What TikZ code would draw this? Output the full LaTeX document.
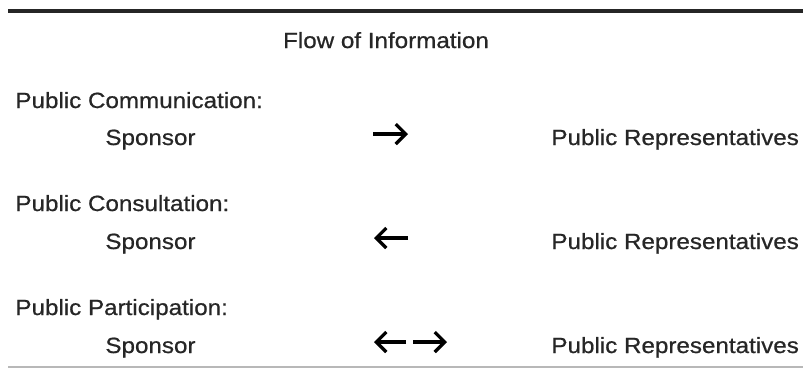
\documentclass[tikz,border=0pt]{standalone}
\usepackage{fontspec}
\setmainfont[FakeStretch=1.1,FakeBold=0.7]{Liberation Sans}
\usetikzlibrary{arrows.meta}
\definecolor{txt}{HTML}{262626}
\definecolor{rulegray}{HTML}{B8B8B8}
\begin{document}
\begin{tikzpicture}[x=0.5pt,y=-0.5pt,
  lbl/.style={anchor=base west,inner sep=0pt,text=txt,font=\fontsize{11pt}{13pt}\selectfont},
  ttl/.style={anchor=base,inner sep=0pt,text=txt,font=\fontsize{11pt}{13pt}\selectfont},
  flow/.style={line width=1.6pt,-{Straight Barb[length=5pt,width=10pt]},black}]
\useasboundingbox (0,0) rectangle (803,371);
\coordinate (tl) at (8,11);
\coordinate (tr) at (803,11);
\coordinate (bl) at (8,367);
\coordinate (br) at (803,367);
\draw[line width=1.6pt,black!85] (tl) -- (tr);
\draw[line width=0.8pt,rulegray] (bl) -- (br);
\node[ttl] (title) at (386,48) {Flow of Information};
% row 1
\node[lbl] (h1) at (15,108) {Public Communication:};
\node[lbl] (s1) at (105,145) {Sponsor};
\node[lbl] (p1) at (551,145) {Public Representatives};
\coordinate (a1s) at (373,134);
\coordinate (a1e) at (408,134);
\draw[flow] (a1s) -- (a1e);
% row 2
\node[lbl] (h2) at (15,211) {Public Consultation:};
\node[lbl] (s2) at (105,249) {Sponsor};
\node[lbl] (p2) at (551,249) {Public Representatives};
\coordinate (a2s) at (408,238);
\coordinate (a2e) at (374,238);
\draw[flow] (a2s) -- (a2e);
% row 3
\node[lbl] (h3) at (15,315) {Public Participation:};
\node[lbl] (s3) at (105,353) {Sponsor};
\node[lbl] (p3) at (551,353) {Public Representatives};
\coordinate (a3s) at (406,342);
\coordinate (a3e) at (374,342);
\coordinate (a4s) at (413,342);
\coordinate (a4e) at (447,342);
\draw[flow] (a3s) -- (a3e);
\draw[flow] (a4s) -- (a4e);
\end{tikzpicture}
\end{document}
